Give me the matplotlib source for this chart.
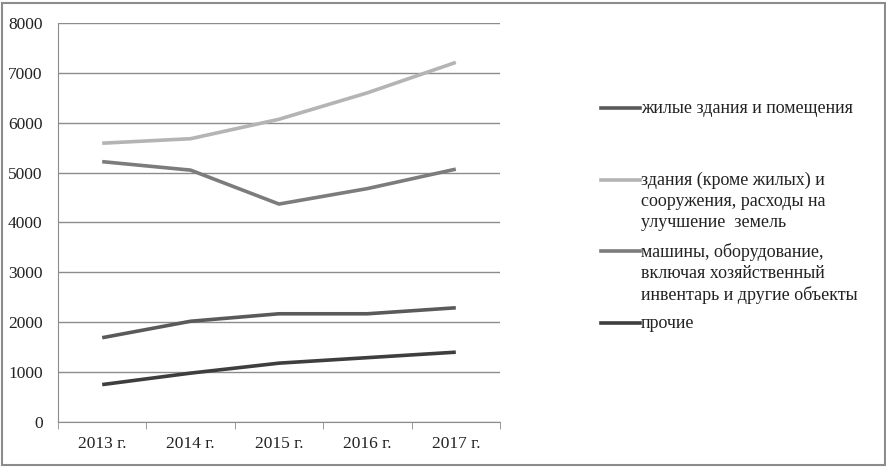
import matplotlib.pyplot as plt
from matplotlib.patches import Rectangle
from matplotlib.lines import Line2D
import numpy as np

plt.rcParams["font.family"] = ["Liberation Serif", "DejaVu Serif"]

# Data
years = ["2013 г.", "2014 г.", "2015 г.", "2016 г.", "2017 г."]
residential = [1690, 2020, 2170, 2170, 2290]
non_residential = [5590, 5680, 6070, 6600, 7210]
machinery = [5220, 5050, 4370, 4680, 5070]
other = [750, 980, 1180, 1290, 1400]

labels = [
    "жилые здания и помещения",
    "здания (кроме жилых) и\nсооружения, расходы на\nулучшение  земель",
    "машины, оборудование,\nвключая хозяйственный\nинвентарь и другие объекты",
    "прочие",
]
colors = ["#5a5a5a", "#b4b4b4", "#7c7c7c", "#3e3e3e"]
series = [residential, non_residential, machinery, other]

fig = plt.figure(figsize=(8.87, 4.67), dpi=100)
ax = fig.add_axes([58 / 887, 45 / 467, 442 / 887, 399 / 467])

x = np.arange(len(years))
for vals, col, lab in zip(series, colors, labels):
    ax.plot(x, vals, color=col, linewidth=2.6, label=lab, solid_capstyle="butt")

ax.set_xlim(-0.5, len(years) - 0.5)
ax.set_ylim(0, 8000)
ax.set_yticks(range(0, 8001, 1000))
ax.yaxis.grid(True, color="#8c8c8c", linewidth=1.0)
ax.set_axisbelow(True)

ax.set_xticks(x)
ax.set_xticklabels(years)
ax.set_xticks(np.arange(-0.5, len(years), 1.0), minor=True)
ax.tick_params(axis="x", which="major", length=0, pad=10, labelsize=12.5,
               labelcolor="#222222")
ax.tick_params(axis="x", which="minor", length=5, color="#8c8c8c", direction="out")
ax.tick_params(axis="y", length=0, pad=11, labelsize=12.5, labelcolor="#222222")

for side in ["top", "right"]:
    ax.spines[side].set_visible(False)
for side in ["left", "bottom"]:
    ax.spines[side].set_color("#8c8c8c")

# Legend drawn by hand: handle aligned with the first text line, as in Excel
legend_y = [108, 180, 251, 323]
for lab, col, ly in zip(labels, colors, legend_y):
    yf = 1 - ly / 467
    fig.add_artist(Line2D([601 / 887, 640 / 887], [yf, yf], color=col,
                          linewidth=2.6, transform=fig.transFigure))
    fig.text(641 / 887, yf + 8 / 467, lab, ha="left", va="top", fontsize=13,
             color="#222222", linespacing=1.3)

# Outer frame
fig.patches.append(Rectangle((2 / 887, 2 / 467), 883 / 887, 462 / 467,
                             transform=fig.transFigure, fill=False,
                             edgecolor="#8c8c8c", linewidth=1.5))

fig.savefig("out.png", dpi=100)
